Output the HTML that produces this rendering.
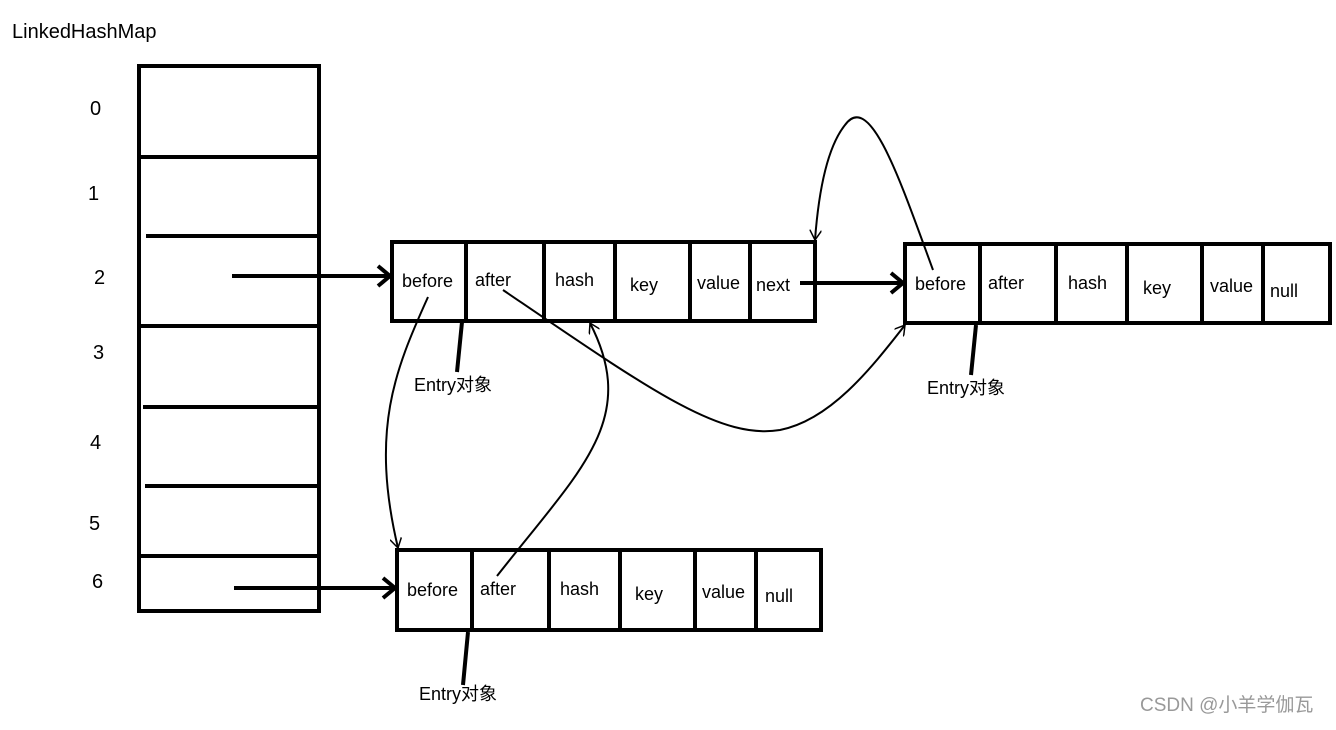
<!DOCTYPE html>
<html><head><meta charset="utf-8"><style>
body{margin:0;background:#fff;}
svg text{font-family:"Liberation Sans","Noto Sans CJK SC",sans-serif;fill:#000;}
</style></head><body>
<svg width="1336" height="725" viewBox="0 0 1336 725" xmlns="http://www.w3.org/2000/svg">
<defs><marker id="a" markerWidth="12" markerHeight="12" refX="10" refY="6" orient="auto" markerUnits="userSpaceOnUse"><path d="M0,0 L10,6 L0,12" fill="none" stroke="#000" stroke-width="1.5"/></marker></defs>
<text x="12" y="38" font-size="20">LinkedHashMap</text>
<g stroke="#000" stroke-width="4" fill="none">
<rect x="139" y="66" width="180" height="545"/>
<line x1="139" y1="157" x2="319" y2="157"/>
<line x1="146" y1="236" x2="319" y2="236"/>
<line x1="139" y1="326" x2="319" y2="326"/>
<line x1="143" y1="407" x2="319" y2="407"/>
<line x1="145" y1="486" x2="319" y2="486"/>
<line x1="139" y1="556" x2="319" y2="556"/>
<rect x="392" y="242" width="423" height="79"/>
<line x1="466" y1="242" x2="466" y2="321"/><line x1="544" y1="242" x2="544" y2="321"/><line x1="615" y1="242" x2="615" y2="321"/><line x1="690" y1="242" x2="690" y2="321"/><line x1="750" y1="242" x2="750" y2="321"/>
<rect x="905" y="244" width="425" height="79"/>
<line x1="980" y1="244" x2="980" y2="323"/><line x1="1056" y1="244" x2="1056" y2="323"/><line x1="1127" y1="244" x2="1127" y2="323"/><line x1="1202" y1="244" x2="1202" y2="323"/><line x1="1263" y1="244" x2="1263" y2="323"/>
<rect x="397" y="550" width="424" height="80"/>
<line x1="472" y1="550" x2="472" y2="630"/><line x1="549" y1="550" x2="549" y2="630"/><line x1="620" y1="550" x2="620" y2="630"/><line x1="695" y1="550" x2="695" y2="630"/><line x1="756" y1="550" x2="756" y2="630"/>
<line x1="232" y1="276" x2="388" y2="276"/><path d="M378,266 L390,276 L378,286"/>
<line x1="234" y1="588" x2="393" y2="588"/><path d="M383,578 L395,588 L383,598"/>
<line x1="800" y1="283" x2="901" y2="283"/><path d="M891,273 L903,283 L891,293"/>
<line x1="462" y1="322" x2="457" y2="372"/>
<line x1="976" y1="325" x2="971" y2="375"/>
<line x1="468" y1="632" x2="463" y2="685"/>
</g>
<g stroke="#000" stroke-width="2" fill="none">
<path d="M428,297 C395,370 370,430 398,548" marker-end="url(#a)"/>
<path d="M497,576 C580,470 640,420 590,323" marker-end="url(#a)"/>
<path d="M503,290 C650,390 720,440 780,430 C830,420 870,370 905,325" marker-end="url(#a)"/>
<path d="M933,270 C900,180 870,90 845,125 C825,150 818,200 815,240" marker-end="url(#a)"/>
</g>
<g font-size="20">
<text x="90" y="115">0</text><text x="88" y="200">1</text><text x="94" y="284">2</text><text x="93" y="359">3</text><text x="90" y="449">4</text><text x="89" y="530">5</text><text x="92" y="588">6</text>
</g>
<g font-size="18">
<text x="402" y="287">before</text><text x="475" y="286">after</text><text x="555" y="286">hash</text><text x="630" y="291">key</text><text x="697" y="289">value</text><text x="756" y="291">next</text>
<text x="915" y="290">before</text><text x="988" y="289">after</text><text x="1068" y="289">hash</text><text x="1143" y="294">key</text><text x="1210" y="292">value</text><text x="1270" y="297">null</text>
<text x="407" y="596">before</text><text x="480" y="595">after</text><text x="560" y="595">hash</text><text x="635" y="600">key</text><text x="702" y="598">value</text><text x="765" y="602">null</text>
<text x="414" y="391">Entry对象</text><text x="927" y="394">Entry对象</text><text x="419" y="700">Entry对象</text>
</g>
<text x="1140" y="711" font-size="19" style="fill:#999">CSDN @小羊学伽瓦</text>
</svg>
</body></html>
